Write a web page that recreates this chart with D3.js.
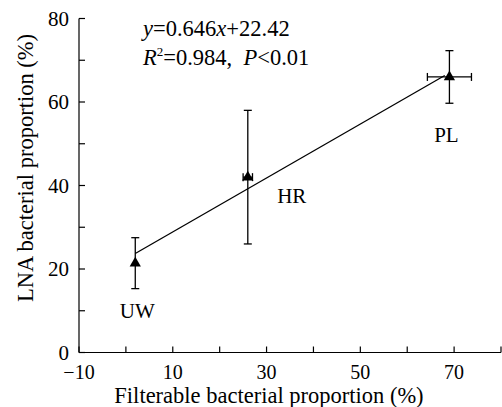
<!DOCTYPE html>
<html>
<head>
<meta charset="utf-8">
<script src="https://cdn.jsdelivr.net/npm/d3@7"></script>
<style>
  body { margin: 0; background: #fff; }
  svg text { font-family: "Liberation Serif", "DejaVu Serif", serif; fill: #000; }
</style>
</head>
<body>
<svg id="chart" width="502" height="407" font-family="Liberation Serif, serif"></svg>
<script>
// sites and their values
var sites = ["UW", "HR", "PL"];
var filterable = [2, 26, 69];        // x, %
var filterableErr = [0, 1, 4.7];     // x error
var lna = [21.4, 42, 66];            // y, %
var lnaErr = [6.1, 16, 6.3];         // y error
var xTickValues = [-10, 10, 30, 50, 70];
var yTickValues = [0, 20, 40, 60, 80];
var slope = 0.646, intercept = 22.42;
var fitRange = [2, 68];

var svg = d3.select("#chart");

var x = d3.scaleLinear().domain([-10, 80]).range([79, 501]);
var y = d3.scaleLinear().domain([0, 80]).range([352.5, 18.5]);

// axes, ticks every 10 pointing inward
var xAxis = svg.append("g").attr("transform", "translate(0," + y(0) + ")");
xAxis.append("line").attr("x1", x(-10)).attr("x2", x(80)).attr("stroke", "#000").attr("stroke-width", 1.2);
xAxis.selectAll(".tk").data(d3.range(-10, 81, 10)).join("line")
    .attr("x1", function(d){ return x(d); }).attr("x2", function(d){ return x(d); })
    .attr("y1", 0).attr("y2", -6).attr("stroke", "#000").attr("stroke-width", 1.2);
xAxis.selectAll(".lb").data(xTickValues).join("text")
    .attr("x", function(d){ return x(d); }).attr("y", 26)
    .attr("text-anchor", "middle").attr("font-size", "20px")
    .text(function(d){ return d < 0 ? "\u2212" + Math.abs(d) : d; });

var yAxis = svg.append("g").attr("transform", "translate(" + x(-10) + ",0)");
yAxis.append("line").attr("y1", y(0)).attr("y2", y(80)).attr("stroke", "#000").attr("stroke-width", 1.2);
yAxis.selectAll(".tk").data(d3.range(0, 81, 10)).join("line")
    .attr("y1", function(d){ return y(d); }).attr("y2", function(d){ return y(d); })
    .attr("x1", 0).attr("x2", 6).attr("stroke", "#000").attr("stroke-width", 1.2);
yAxis.selectAll(".lb").data(yTickValues).join("text")
    .attr("x", -10).attr("y", function(d){ return y(d) + 7; })
    .attr("text-anchor", "end").attr("font-size", "21px")
    .text(function(d){ return d; });

// axis titles
svg.append("text").attr("x", 269).attr("y", 403).attr("text-anchor", "middle")
    .attr("font-size", "22.5px").text("Filterable bacterial proportion (%)");
svg.append("text").attr("transform", "translate(33,168) rotate(-90)").attr("text-anchor", "middle")
    .attr("font-size", "22.5px").text("LNA bacterial proportion (%)");

// regression line
svg.append("line")
    .attr("x1", x(fitRange[0])).attr("y1", y(slope * fitRange[0] + intercept))
    .attr("x2", x(fitRange[1])).attr("y2", y(slope * fitRange[1] + intercept))
    .attr("stroke", "#000").attr("stroke-width", 1.3);

var pts = sites.map(function(s, i){
    return { name: s, x: filterable[i], xe: filterableErr[i], y: lna[i], ye: lnaErr[i] };
});

var cap = 4;
var g = svg.append("g").attr("stroke", "#000").attr("stroke-width", 1.3);
pts.forEach(function(p){
    g.append("line").attr("x1", x(p.x)).attr("x2", x(p.x)).attr("y1", y(p.y - p.ye)).attr("y2", y(p.y + p.ye));
    [p.y - p.ye, p.y + p.ye].forEach(function(v){
        g.append("line").attr("x1", x(p.x) - cap).attr("x2", x(p.x) + cap).attr("y1", y(v)).attr("y2", y(v));
    });
    if (p.xe > 0) {
        g.append("line").attr("y1", y(p.y)).attr("y2", y(p.y)).attr("x1", x(p.x - p.xe)).attr("x2", x(p.x + p.xe));
        [p.x - p.xe, p.x + p.xe].forEach(function(v){
            g.append("line").attr("y1", y(p.y) - cap).attr("y2", y(p.y) + cap).attr("x1", x(v)).attr("x2", x(v));
        });
    }
});

// triangle markers
svg.selectAll(".pt").data(pts).join("path")
    .attr("d", d3.symbol().type(d3.symbolTriangle).size(55))
    .attr("transform", function(d){ return "translate(" + x(d.x) + "," + y(d.y) + ")"; })
    .attr("fill", "#000");

// site labels
var labelOffsets = { UW: [2, 55], HR: [44, 26], PL: [-3, 65] };
svg.selectAll(".site").data(pts).join("text")
    .attr("x", function(d){ return x(d.x) + labelOffsets[d.name][0]; })
    .attr("y", function(d){ return y(d.y) + labelOffsets[d.name][1]; })
    .attr("text-anchor", "middle").attr("font-size", "21px")
    .text(function(d){ return d.name; });

// equation
var eq = svg.append("text").attr("x", 143).attr("y", 36).attr("font-size", "22.5px");
eq.append("tspan").attr("font-style", "italic").text("y");
eq.append("tspan").text("=0.646");
eq.append("tspan").attr("font-style", "italic").text("x");
eq.append("tspan").text("+22.42");

var r2 = svg.append("text").attr("x", 143).attr("y", 65).attr("font-size", "22.5px");
r2.append("tspan").attr("font-style", "italic").text("R");
r2.append("tspan").attr("font-size", "13px").attr("dy", -9).text("2");
r2.append("tspan").attr("dy", 9).text("=0.984,\u00a0\u00a0");
r2.append("tspan").attr("font-style", "italic").text("P");
r2.append("tspan").text("<0.01");
</script>
</body>
</html>
